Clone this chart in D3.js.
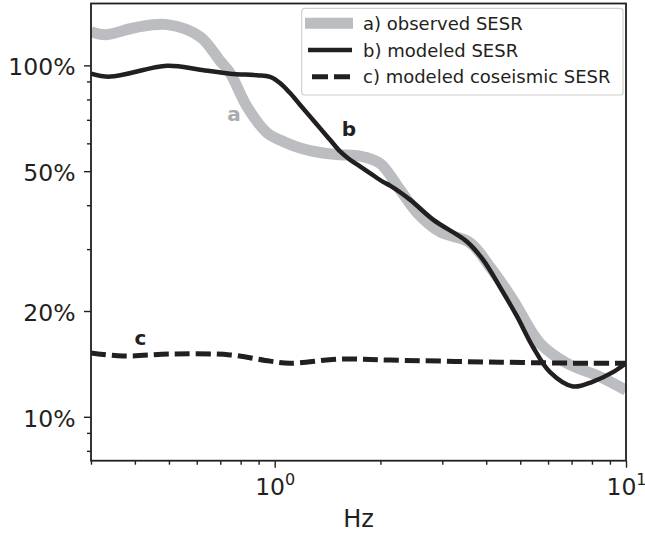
<!DOCTYPE html>
<html>
<head>
<meta charset="utf-8">
<script src="https://cdn.jsdelivr.net/npm/d3@7"></script>
<style>
  html, body { margin: 0; padding: 0; background: #fff; }
  svg { display: block; font-family: "DejaVu Sans", sans-serif; }
</style>
</head>
<body>
<svg id="chart" width="645" height="535"></svg>
<script>
// ---- data ----
const obsFreq = [0.30, 0.329, 0.40, 0.494, 0.613, 0.699, 0.746, 0.834, 0.951, 1.035, 1.18, 1.346, 1.535, 1.749, 1.99, 2.274, 2.542, 2.954, 3.597, 4.101, 4.769, 5.691, 6.792, 8.433, 10];
const obsVal  = [1.247, 1.223, 1.28, 1.306, 1.207, 1.03, 0.953, 0.763, 0.643, 0.613, 0.582, 0.565, 0.557, 0.552, 0.527, 0.443, 0.381, 0.336, 0.313, 0.267, 0.215, 0.162, 0.142, 0.130, 0.119];

const modFreq = [0.30, 0.340, 0.494, 0.613, 0.746, 0.891, 0.970, 1.035, 1.106, 1.180, 1.260, 1.346, 1.437, 1.535, 1.638, 1.749, 1.867, 2.034, 2.13, 2.427, 2.823, 3.527, 3.916, 4.378, 4.895, 5.436, 6.076, 7.065, 8.054, 9.183, 10];
const modVal  = [0.947, 0.929, 0.998, 0.972, 0.947, 0.937, 0.927, 0.891, 0.834, 0.773, 0.716, 0.663, 0.614, 0.569, 0.539, 0.516, 0.494, 0.466, 0.455, 0.415, 0.364, 0.315, 0.280, 0.234, 0.193, 0.158, 0.134, 0.122, 0.126, 0.134, 0.142];

const coFreq = [0.30, 0.370, 0.513, 0.746, 0.970, 1.106, 1.535, 2.130, 4.378, 7.897, 10];
const coVal  = [0.152, 0.149, 0.151, 0.150, 0.144, 0.142, 0.146, 0.145, 0.143, 0.142, 0.142];

const xMajor = [1, 10];
const xMinor = [0.3, 0.4, 0.5, 0.6, 0.7, 0.8, 0.9, 2, 3, 4, 5, 6, 7, 8, 9];
const yMajor = [0.1, 0.2, 0.5, 1.0];
const yMinor = [0.08, 0.09, 0.3, 0.4, 0.6, 0.7, 0.8, 0.9];

const legendLabels = ["a) observed SESR", "b) modeled SESR", "c) modeled coseismic SESR"];
const curveLetters = ["a", "b", "c"];
const xTitle = "Hz";

// ---- layout ----
const L = 91, R = 626, T = 3.5, B = 460.7;
const gray = "#bcbdc0", dark = "#231f20";

const svg = d3.select("#chart");
const x = d3.scaleLog().domain([0.3, 10]).range([L, R]);
const y = d3.scaleLog().domain([0.075, 1.5]).range([B, T]);

svg.append("defs").append("clipPath").attr("id", "clip")
  .append("rect").attr("x", L).attr("y", T).attr("width", R - L).attr("height", B - T);

const line = d3.line().x(d => x(d[0])).y(d => y(d[1])).curve(d3.curveCatmullRom.alpha(0.5));
const zip = (a, b) => a.map((v, i) => [v, b[i]]);

const plot = svg.append("g").attr("clip-path", "url(#clip)");
plot.append("path").datum(zip(obsFreq, obsVal)).attr("d", line)
  .attr("fill", "none").attr("stroke", gray).attr("stroke-width", 11);
plot.append("path").datum(zip(modFreq, modVal)).attr("d", line)
  .attr("fill", "none").attr("stroke", dark).attr("stroke-width", 4.5);
plot.append("path").datum(zip(coFreq, coVal)).attr("d", line)
  .attr("fill", "none").attr("stroke", dark).attr("stroke-width", 5)
  .attr("stroke-dasharray", "15,6");

// curve letters
const letterPos = [[234, 121, "#a9aaad"], [349, 136, dark], [140.5, 345, dark]];
curveLetters.forEach((c, i) => {
  svg.append("text").attr("x", letterPos[i][0]).attr("y", letterPos[i][1]).attr("text-anchor", "middle")
    .attr("font-weight", "bold").attr("font-size", 20).attr("fill", letterPos[i][2]).text(c);
});

// axes
const fmtPct = d3.format(".0%");
const yAx = svg.append("g").attr("transform", `translate(${L},0)`)
  .call(d3.axisLeft(y).tickValues(yMajor).tickFormat(fmtPct).tickSize(7).tickPadding(8.5));
const yAxMin = svg.append("g").attr("transform", `translate(${L},0)`)
  .call(d3.axisLeft(y).tickValues(yMinor).tickFormat("").tickSize(4));
const xAx = svg.append("g").attr("transform", `translate(0,${B})`)
  .call(d3.axisBottom(x).tickValues(xMajor).tickFormat("").tickSize(7));
const xAxMin = svg.append("g").attr("transform", `translate(0,${B})`)
  .call(d3.axisBottom(x).tickValues(xMinor).tickFormat("").tickSize(4));

[yAx, yAxMin, xAx, xAxMin].forEach(g => {
  g.select(".domain").remove();
  g.selectAll(".tick line").attr("stroke", dark).attr("stroke-width", 1.4);
});
yAx.selectAll(".tick text").attr("font-size", 23.5).attr("fill", dark)
  .attr("dy", "0.4em").attr("font-family", "DejaVu Sans");

// x tick labels as 10^n
xAx.selectAll(".tick").each(function(d) {
  const t = d3.select(this).append("text").attr("y", 34.3).attr("fill", dark)
    .attr("text-anchor", "middle").attr("font-size", 23.5).attr("font-family", "DejaVu Sans");
  t.append("tspan").text("10");
  t.append("tspan").attr("dy", -10).attr("font-size", 16).text(Math.round(Math.log10(d)));
});

// frame
svg.append("rect").attr("x", L).attr("y", T).attr("width", R - L).attr("height", B - T)
  .attr("fill", "none").attr("stroke", dark).attr("stroke-width", 1.8);

// x title
svg.append("text").attr("x", (L + R) / 2).attr("y", 527).attr("text-anchor", "middle")
  .attr("font-size", 24).attr("fill", dark).text(xTitle);

// legend
const lg = svg.append("g");
lg.append("rect").attr("x", 301.7).attr("y", 8.3).attr("width", 321.3).attr("height", 86.7)
  .attr("rx", 3).attr("fill", "#fff").attr("fill-opacity", 0.85)
  .attr("stroke", "#d0d0d0").attr("stroke-width", 1.2);
const rowY = [23.3, 50, 76.7];
const styles = [
  {stroke: gray, w: 11, dash: null, x1: 305, x2: 353},
  {stroke: dark, w: 4.5, dash: null, x1: 308, x2: 352},
  {stroke: dark, w: 5, dash: "16,6", x1: 312, x2: 350}
];
legendLabels.forEach((lab, i) => {
  lg.append("line").attr("x1", styles[i].x1).attr("x2", styles[i].x2).attr("y1", rowY[i]).attr("y2", rowY[i])
    .attr("stroke", styles[i].stroke).attr("stroke-width", styles[i].w)
    .attr("stroke-dasharray", styles[i].dash);
  lg.append("text").attr("x", 363).attr("y", rowY[i] + 6.5).attr("font-size", 18)
    .attr("fill", dark).text(lab);
});
</script>
</body>
</html>
